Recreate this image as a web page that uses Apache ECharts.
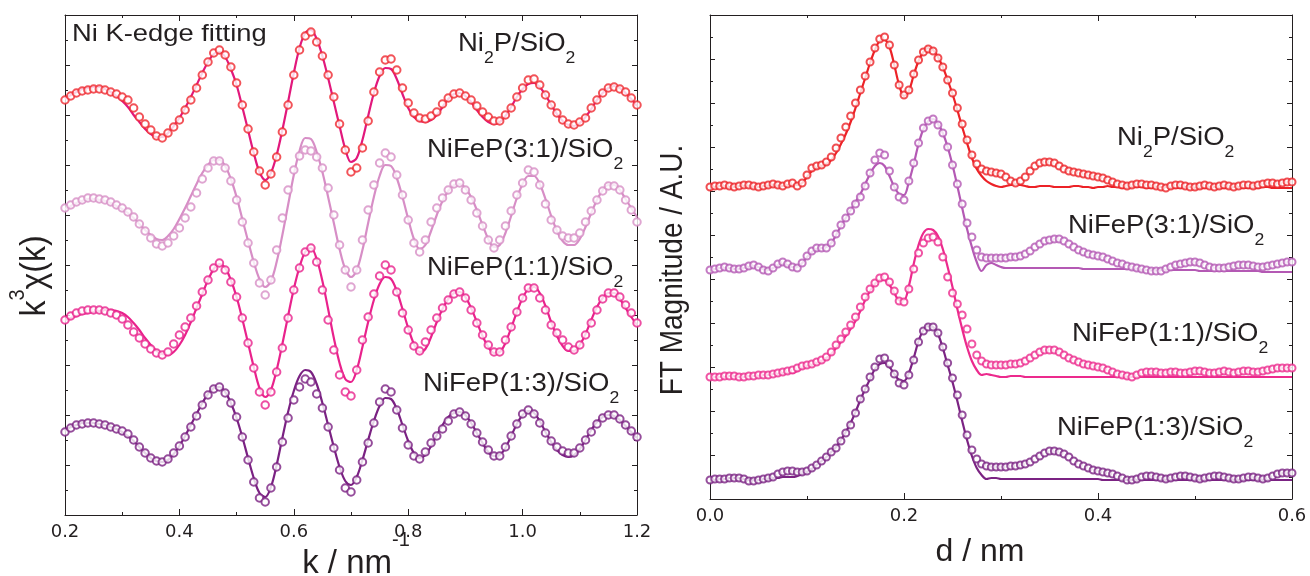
<!DOCTYPE html>
<html>
<head>
<meta charset="utf-8">
<script src="https://cdn.jsdelivr.net/npm/echarts@6/dist/echarts.min.js"></script>
<style>
  html, body { margin: 0; padding: 0; background: #fff; }
  #main { width: 1310px; height: 576px; }
</style>
</head>
<body>
<div id="main"></div>
<script>
// EXAFS fitting: k-space (left) and R-space FT (right), curves stacked with offsets (A.U.)
var chart = echarts.init(document.getElementById('main'));

// ---- left panel: k^3 chi(k) ----
var kGrid = [0.20,0.21,0.22,0.23,0.24,0.25,0.26,0.27,0.28,0.29,
  0.30,0.31,0.32,0.33,0.34,0.35,0.36,0.37,0.38,0.39,
  0.40,0.41,0.42,0.43,0.44,0.45,0.46,0.47,0.48,0.49,
  0.50,0.51,0.52,0.53,0.54,0.55,0.56,0.57,0.58,0.59,
  0.60,0.61,0.62,0.63,0.64,0.65,0.66,0.67,0.68,0.69,
  0.70,0.71,0.72,0.73,0.74,0.75,0.76,0.77,0.78,0.79,
  0.80,0.81,0.82,0.83,0.84,0.85,0.86,0.87,0.88,0.89,
  0.90,0.91,0.92,0.93,0.94,0.95,0.96,0.97,0.98,0.99,
  1.00,1.01,1.02,1.03,1.04,1.05,1.06,1.07,1.08,1.09,
  1.10,1.11,1.12,1.13,1.14,1.15,1.16,1.17,1.18,1.19,
  1.20];

var ni2pKData = [415,419,422,424,425,426,426,425,423,421,
  418,415,407,398,391,385,379,377,382,388,
  395,405,415,427,440,453,462,465,460,448,
  432,410,386,363,344,330,341,358,383,410,
  440,465,479,483,473,459,440,418,391,365,
  343,347,367,394,423,443,455,456,445,427,
  412,402,397,396,399,403,411,417,421,422,
  419,415,409,403,398,394,394,400,407,418,
  427,435,436,430,420,410,402,395,391,390,
  393,397,407,415,422,427,428,426,423,417,
  410];
var ni2pKFit = [416,420,423,426,427,428,428,426,423,419,
  414,408,400,393,386,381,378,378,382,389,
  397,407,418,430,442,453,461,463,458,446,
  430,408,385,362,343,335,342,360,385,413,
  442,467,482,485,476,459,437,413,389,366,
  353,357,375,399,422,439,447,446,436,421,
  407,398,394,393,395,400,408,416,421,422,
  419,413,405,398,393,391,393,399,408,418,
  426,431,432,428,420,410,401,394,390,389,
  392,398,406,415,422,427,429,427,422,416,
  409];

var nife31KData = [307,310,313,315,317,317,316,315,313,310,
  307,303,298,291,284,277,271,269,272,279,
  287,297,308,322,336,347,354,354,347,334,
  315,293,272,252,232,220,235,265,297,325,
  345,359,365,364,358,347,327,300,270,245,
  228,245,275,305,330,352,362,358,340,320,
  295,272,263,275,293,307,317,325,331,332,
  325,315,302,289,275,267,275,289,304,320,
  332,345,343,330,311,295,285,279,277,277,
  282,293,304,315,324,329,329,325,315,305,
  293];
var nife31KFit = [306,309,312,314,316,316,315,314,312,309,
  306,302,297,291,285,280,276,275,279,286,
  296,307,319,331,342,350,355,355,349,336,
  318,296,274,253,236,228,234,253,280,310,
  340,364,377,376,363,343,318,292,266,246,
  238,245,265,292,318,339,350,349,337,318,
  296,276,266,270,284,300,314,324,330,331,
  327,318,305,290,276,268,270,282,299,317,
  331,339,339,331,316,299,284,274,270,270,
  276,288,302,315,325,330,330,325,316,307,
  298];

var nife11KData = [195,199,202,204,205,205,205,204,202,200,
  196,190,183,177,171,166,162,160,163,171,
  180,188,197,209,223,235,247,252,245,233,
  218,197,172,147,123,110,123,143,167,197,
  225,247,263,267,253,225,195,165,140,123,
  119,145,175,198,221,239,250,245,223,202,
  185,169,164,173,185,197,207,215,221,223,
  217,205,192,180,170,163,163,175,188,203,
  217,227,227,217,205,190,182,175,168,165,
  170,180,192,205,216,222,222,218,210,202,
  192];
var nife11KFit = [195,197,199,201,202,203,204,205,205,204,
  202,198,192,185,177,170,164,161,160,163,
  170,180,193,207,221,235,246,251,247,235,
  218,196,172,148,127,118,125,145,171,199,
  226,248,263,267,256,234,206,177,152,136,
  133,145,168,193,215,231,238,236,224,206,
  187,171,163,166,178,193,206,216,222,223,
  218,207,193,179,168,162,163,172,187,203,
  217,226,228,222,209,193,179,169,164,164,
  170,181,195,208,217,222,222,216,207,198,
  190];

var nife13KData = [83,87,90,91,92,92,91,90,88,86,
  84,81,75,68,62,57,54,53,56,62,
  69,78,88,99,110,120,126,128,122,112,
  98,78,55,33,17,13,27,48,73,97,
  115,128,136,133,121,107,88,67,45,27,
  23,35,53,72,92,113,126,123,105,87,
  70,59,56,63,72,79,86,94,101,103,
  99,91,82,73,65,59,59,68,79,91,
  101,105,101,92,82,74,68,64,62,62,
  67,75,83,91,97,100,100,96,90,84,
  78];
var nife13KFit = [84,88,90,92,92,92,91,90,88,86,
  83,79,74,68,62,57,54,53,55,61,
  69,79,90,101,112,121,127,128,123,112,
  97,78,57,37,22,18,28,50,77,103,
  124,139,145,143,131,112,90,68,48,34,
  30,38,55,75,94,109,117,116,106,90,
  74,62,57,60,69,80,90,98,102,103,
  100,92,82,72,63,59,60,67,79,91,
  100,104,102,94,83,73,65,60,58,60,
  66,75,85,93,98,100,99,95,89,83,
  77];

// ---- right panel: FT magnitude ----
var dGrid = [0.000,0.005,0.010,0.015,0.020,0.025,0.030,0.035,0.040,0.045,
  0.050,0.055,0.060,0.065,0.070,0.075,0.080,0.085,0.090,0.095,
  0.100,0.105,0.110,0.115,0.120,0.125,0.130,0.135,0.140,0.145,
  0.150,0.155,0.160,0.165,0.170,0.175,0.180,0.185,0.190,0.195,
  0.200,0.205,0.210,0.215,0.220,0.225,0.230,0.235,0.240,0.245,
  0.250,0.255,0.260,0.265,0.270,0.275,0.280,0.285,0.290,0.295,
  0.300,0.305,0.310,0.315,0.320,0.325,0.330,0.335,0.340,0.345,
  0.350,0.355,0.360,0.365,0.370,0.375,0.380,0.385,0.390,0.395,
  0.400,0.405,0.410,0.415,0.420,0.425,0.430,0.435,0.440,0.445,
  0.450,0.455,0.460,0.465,0.470,0.475,0.480,0.485,0.490,0.495,
  0.500,0.505,0.510,0.515,0.520,0.525,0.530,0.535,0.540,0.545,
  0.550,0.555,0.560,0.565,0.570,0.575,0.580,0.585,0.590,0.595,
  0.600];

var ni2pRData = [312,313,313,314,313,312,313,314,314,313,
  312,313,314,315,314,313,315,316,313,316,
  324,331,333,334,337,342,351,361,372,383,
  396,409,423,437,451,460,462,454,434,414,
  404,409,425,439,447,450,448,441,432,419,
  406,391,375,359,344,335,330,328,327,326,
  325,322,318,316,318,322,328,333,336,337,
  337,336,333,330,328,327,326,325,324,323,
  322,321,319,317,315,314,313,314,315,315,
  314,314,313,312,311,313,314,314,313,312,
  312,313,314,313,312,313,314,313,312,313,
  314,314,313,314,315,316,316,315,316,317,
  317];
var ni2pRFit = [312,312,313,313,312,312,313,313,313,312,
  312,313,313,314,313,313,314,314,314,316,
  322,328,331,333,335,339,346,355,365,377,
  391,406,421,436,449,458,459,452,434,414,
  403,408,424,438,447,451,449,442,432,419,
  405,389,372,356,341,330,323,318,315,313,
  312,313,314,315,314,313,312,312,313,313,
  313,312,312,312,312,313,313,312,312,311,
  312,312,313,312,312,311,311,312,312,312,
  311,311,312,312,312,311,311,311,312,312,
  311,311,311,312,312,311,311,311,312,312,
  311,311,311,311,312,312,311,311,311,311,
  311];

var nife31RData = [229,230,231,232,231,230,230,231,233,234,
  232,229,228,231,235,237,235,232,231,236,
  243,248,251,251,251,256,265,274,281,288,
  295,302,313,326,339,346,344,328,312,302,
  299,318,336,356,371,378,380,374,366,352,
  334,315,295,276,262,249,242,241,241,241,
  241,241,242,242,243,245,248,252,255,258,
  259,260,260,258,255,252,249,247,245,244,
  243,242,240,238,236,235,233,232,231,230,
  229,228,228,228,230,232,234,235,236,237,
  237,236,234,232,231,231,231,232,233,234,
  234,234,233,232,232,233,234,235,236,237,
  237];
var nife31RFit = [230,230,231,231,231,230,230,231,232,233,
  232,230,229,231,234,235,234,232,232,236,
  242,247,250,251,252,256,264,273,281,289,
  297,305,315,325,333,336,333,323,312,305,
  304,317,335,355,370,378,380,375,366,352,
  334,313,291,270,252,237,228,234,236,234,
  232,231,231,231,231,231,231,231,231,231,
  231,231,231,231,231,231,231,230,230,230,
  230,230,230,230,230,230,230,230,230,229,
  229,229,229,229,229,229,229,229,229,229,
  229,228,228,228,228,228,228,228,228,228,
  228,228,228,228,227,227,227,227,227,227,
  227];

var nife11RData = [122,122,122,123,123,123,122,122,123,123,
  124,124,124,125,126,127,128,129,131,133,
  134,135,137,139,142,147,154,160,167,174,
  182,192,202,210,216,221,222,217,208,198,
  197,210,230,246,256,261,262,257,242,222,
  206,195,184,170,155,144,138,135,134,134,
  134,134,135,135,136,138,141,144,147,149,
  149,149,147,144,141,139,137,135,134,133,
  132,131,129,127,125,124,123,122,124,126,
  127,127,127,126,126,127,127,126,126,127,
  128,128,127,126,126,127,128,127,126,127,
  128,128,127,127,128,129,130,131,131,131,
  131];
var nife11RFit = [122,122,122,122,123,123,122,122,123,123,
  123,124,124,125,125,126,126,126,128,131,
  133,134,136,138,141,145,151,157,163,170,
  178,188,199,208,215,219,219,214,206,199,
  199,213,235,254,266,270,269,263,250,232,
  212,190,170,152,138,129,124,125,124,123,
  122,122,123,123,123,122,122,122,122,122,
  122,122,122,122,122,122,122,122,122,122,
  122,122,122,122,122,122,122,122,122,122,
  122,122,122,122,122,122,122,122,122,122,
  122,122,122,122,122,122,122,122,122,122,
  122,122,122,122,122,122,122,122,122,122,
  122];

var nife13RData = [19,20,20,20,21,21,21,20,18,18,
  19,20,21,22,25,27,28,28,27,27,
  28,31,34,38,42,47,51,58,66,74,
  86,100,110,122,132,140,141,135,125,116,
  114,124,139,157,168,172,172,166,152,136,
  121,104,84,64,49,40,35,33,32,32,
  32,32,33,33,34,35,37,40,43,46,
  48,48,47,45,42,38,35,33,31,29,
  28,27,26,25,23,21,19,19,20,22,
  23,23,22,21,20,21,22,23,23,22,
  21,20,21,22,23,23,22,21,20,20,
  21,22,22,21,20,21,23,25,26,26,
  26];
var nife13RFit = [19,19,20,20,21,21,21,20,19,19,
  19,20,20,21,21,22,22,22,23,25,
  27,30,34,38,42,47,52,59,67,76,
  87,99,110,120,130,135,136,132,125,119,
  118,126,141,158,169,173,172,165,151,134,
  117,98,78,59,43,31,24,20,21,21,
  20,20,20,20,20,20,20,20,20,20,
  20,20,20,20,20,20,20,20,20,20,
  20,19,19,19,19,19,19,19,19,19,
  19,19,19,19,19,19,19,19,19,19,
  19,19,19,19,19,19,19,19,19,19,
  19,19,19,19,19,19,19,19,19,19,
  19];

var xTicksLeft = [0.2, 1.2, 0.2];   // min, max, step
var xTicksRight = [0.0, 0.6, 0.2];

var sampleNames = ['Ni2P/SiO2', 'NiFeP(3:1)/SiO2', 'NiFeP(1:1)/SiO2', 'NiFeP(1:3)/SiO2'];
var dotColorsK = ['#ef2830', '#d78ec6', '#e9228c', '#7a2182'];
var fitColorsK = ['#e2187c', '#d78ec6', '#e9228c', '#7a2182'];
var colorsR = ['#ec2227', '#b459b4', '#ec2a8d', '#7b2383'];

var INK = '#231f20';
var FONT = 'Liberation Sans';

function pairs(xs, ys) {
  return xs.map(function (x, i) { return [x, ys[i]]; });
}

var kSets = [[ni2pKFit, ni2pKData], [nife31KFit, nife31KData], [nife11KFit, nife11KData], [nife13KFit, nife13KData]];
var rSets = [[ni2pRFit, ni2pRData], [nife31RFit, nife31RData], [nife11RFit, nife11RData], [nife13RFit, nife13RData]];

var series = [];
kSets.forEach(function (s, i) {
  series.push({
    name: sampleNames[i] + ' fit k', type: 'line', xAxisIndex: 0, yAxisIndex: 0,
    data: pairs(kGrid, s[0]), showSymbol: false, smooth: 0.35,
    lineStyle: { color: fitColorsK[i], width: 2.2 }, z: 2
  });
  series.push({
    name: sampleNames[i] + ' data k', type: 'scatter', xAxisIndex: 0, yAxisIndex: 0,
    data: pairs(kGrid, s[1]), symbol: 'emptyCircle', symbolSize: 7.5,
    itemStyle: { color: dotColorsK[i], borderColor: dotColorsK[i], borderWidth: 1.1 }, z: 3
  });
});
rSets.forEach(function (s, i) {
  series.push({
    name: sampleNames[i] + ' fit R', type: 'line', xAxisIndex: 2, yAxisIndex: 2,
    data: pairs(dGrid, s[0]), showSymbol: false, smooth: 0.35,
    lineStyle: { color: colorsR[i], width: 2.2 }, z: 2
  });
  series.push({
    name: sampleNames[i] + ' data R', type: 'scatter', xAxisIndex: 2, yAxisIndex: 2,
    data: pairs(dGrid, s[1]), symbol: 'emptyCircle', symbolSize: 7,
    itemStyle: { color: colorsR[i], borderColor: colorsR[i], borderWidth: 1.1 }, z: 3
  });
});

// axis helpers
function xAx(grid, pos, ticks, showLabel) {
  return {
    type: 'value', gridIndex: grid, position: pos,
    min: ticks[0], max: ticks[1], interval: ticks[2],
    axisLine: { show: true, onZero: false, lineStyle: { color: INK, width: 1 } },
    axisTick: { show: true, inside: true, length: 6, lineStyle: { color: INK } },
    minorTick: { show: true, splitNumber: 2, length: 3, lineStyle: { color: INK } },
    splitLine: { show: false },
    axisLabel: {
      show: showLabel, color: INK, fontFamily: 'DejaVu Sans', fontSize: 18, margin: 8,
      formatter: function (v) { return v.toFixed(1); }
    }
  };
}
function yAx(grid, pos, max, step) {
  return {
    type: 'value', gridIndex: grid, position: pos, min: 0, max: max, interval: step,
    axisLine: { show: true, onZero: false, lineStyle: { color: INK, width: 1 } },
    axisTick: { show: true, inside: true, length: 5, lineStyle: { color: INK } },
    minorTick: { show: true, splitNumber: 2, length: 3, lineStyle: { color: INK } },
    splitLine: { show: false },
    axisLabel: { show: false }
  };
}

// text labels with sub/superscripts
var labelRich = {
  a: { fontFamily: FONT, fontSize: 25, fill: INK, verticalAlign: 'top' },
  s: { fontFamily: FONT, fontSize: 16, fill: INK, verticalAlign: 'top', padding: [19, 0, 0, 0] }
};
function sampleLabel(x, baseline, txt) {
  return {
    type: 'text', x: x, y: baseline - 21, scaleX: 1.1, z: 10,
    style: { text: txt, rich: labelRich, align: 'left', verticalAlign: 'top' }
  };
}
var labelTexts = [
  '{a|Ni}{s|2}{a|P/SiO}{s|2}',
  '{a|NiFeP(3:1)/SiO}{s|2}',
  '{a|NiFeP(1:1)/SiO}{s|2}',
  '{a|NiFeP(1:3)/SiO}{s|2}'
];
var labelPosK = [[458, 53], [427, 159], [427, 277], [423, 393]];
var labelPosR = [[1117, 147], [1068, 235], [1072, 343], [1057, 437]];

var graphics = [];
labelTexts.forEach(function (t, i) {
  graphics.push(sampleLabel(labelPosK[i][0], labelPosK[i][1], t));
  graphics.push(sampleLabel(labelPosR[i][0], labelPosR[i][1], t));
});
graphics.push({
  type: 'text', x: 72, y: 22, scaleX: 1.14, z: 10,
  style: { text: 'Ni K-edge fitting', fontFamily: FONT, fontSize: 24, fill: INK, align: 'left', verticalAlign: 'top' }
});
// axis names
graphics.push({
  type: 'text', x: 356, y: 530, z: 10,
  style: {
    text: '{a|k / nm}{p|-1}', align: 'center', verticalAlign: 'top',
    rich: {
      a: { fontFamily: FONT, fontSize: 33, fill: INK, verticalAlign: 'top', padding: [17, 0, 0, 0] },
      p: { fontFamily: FONT, fontSize: 20, fill: INK, verticalAlign: 'top' }
    }
  }
});
graphics.push({
  type: 'text', x: 980, y: 536, z: 10,
  style: { text: 'd / nm', fontFamily: FONT, fontSize: 32, fill: INK, align: 'center', verticalAlign: 'top' }
});
graphics.push({
  type: 'text', x: 30, y: 276, rotation: Math.PI / 2, scaleY: 1.12, z: 10,
  style: {
    text: '{a|k}{p|3}{a|χ(k)}', align: 'center', verticalAlign: 'middle',
    rich: {
      a: { fontFamily: FONT, fontSize: 32, fill: INK, verticalAlign: 'top', padding: [9, 0, 0, 0] },
      p: { fontFamily: FONT, fontSize: 20, fill: INK, verticalAlign: 'top' }
    }
  }
});
graphics.push({
  type: 'text', x: 673, y: 270, rotation: Math.PI / 2, scaleY: 1.12, z: 10,
  style: { text: 'FT Magnitude / A.U.', fontFamily: FONT, fontSize: 28, fill: INK, align: 'center', verticalAlign: 'middle' }
});

var option = {
  animation: false,
  backgroundColor: '#ffffff',
  grid: [
    { left: 65, top: 15, width: 572, height: 500 },
    { left: 710, top: 15, width: 582, height: 484 }
  ],
  xAxis: [
    xAx(0, 'bottom', xTicksLeft, true),
    xAx(0, 'top', xTicksLeft, false),
    xAx(1, 'bottom', xTicksRight, true),
    xAx(1, 'top', xTicksRight, false)
  ],
  yAxis: [
    yAx(0, 'left', 500, 50),
    yAx(0, 'right', 500, 50),
    yAx(1, 'left', 484, 44),
    yAx(1, 'right', 484, 44)
  ],
  series: series,
  graphic: graphics
};
chart.setOption(option);
window.addEventListener('resize', function () { chart.resize(); });
</script>
</body>
</html>
